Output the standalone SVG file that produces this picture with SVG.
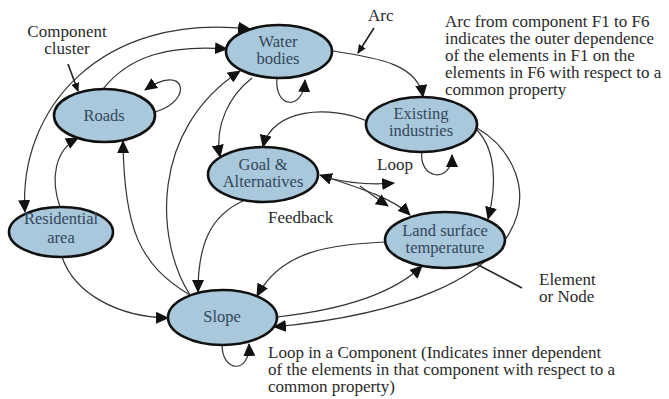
<svg xmlns="http://www.w3.org/2000/svg" width="669" height="399" viewBox="0 0 669 399">
<defs>
<marker id="ah" markerUnits="userSpaceOnUse" markerWidth="13" markerHeight="12" refX="12" refY="6" orient="auto-start-reverse" viewBox="0 0 13 12">
<path d="M0,0 L13,6 L0,12 z" fill="#111"/>
</marker>
<marker id="sm" markerUnits="userSpaceOnUse" markerWidth="9" markerHeight="8" refX="8" refY="4" orient="auto" viewBox="0 0 9 8">
<path d="M0,0 L9,4 L0,8 z" fill="#111"/>
</marker>
<style>
.node ellipse{fill:#a9c8dc;stroke:#111;stroke-width:2.6}
.node text{font-size:16.5px;fill:#33475a;text-anchor:middle}
.c path{fill:none;stroke:#333;stroke-width:1.2;marker-end:url(#ah)}
.c path.both{marker-start:url(#ah)}
.c path.p{stroke:#222;stroke-width:1.6;marker-end:url(#sm)}
.t{font-size:17px;fill:#2a2a2a}
</style>
</defs>
<rect width="669" height="399" fill="#fff"/>

<g id="connectors" class="c">
<path class="both" d="M25 212 C18 110 100 12 250 29"/>
<path d="M103 89 C130 55 170 45 227 49"/>
<path d="M190 295 C155 240 150 130 240 71"/>
<path d="M60 207 C50 178 55 150 78 138"/>
<path d="M190 295 C140 265 124 230 123 141"/>
<path d="M62 257 C75 295 120 317 168 318"/>
<path d="M245 200 C210 215 198 245 198 292"/>
<path d="M252 78 C230 95 214 125 220 157"/>
<path d="M367 121 C330 105 272 108 263 147"/>
<path d="M277 78 C274 108 303 112 305 80"/>
<path d="M155 112 C195 100 185 62 145 90"/>
<path d="M333 51 C380 58 418 65 423 97"/>
<path d="M422 151 C418 180 452 184 452 155"/>
<path d="M477 130 C496 150 497 185 488 219"/>
<path d="M477 128 C548 170 560 300 274 327"/>
<path d="M277 317 C340 310 392 295 422 266"/>
<path d="M385 242 C330 245 282 250 257 296"/>
<path d="M222 345 C222 372 250 375 249 344"/>
<path class="both" d="M320 175 C350 185 392 197 410 215"/>
<path d="M328 178 Q362 186 394 183"/>
<path d="M360 186 Q372 195 388 206"/>
<path class="p" d="M68 64 L78 91"/>
<path class="p" d="M374 28 L358 53"/>
<path class="p" d="M522 288 L465 258"/>
</g>

<g font-family="Liberation Serif, Times New Roman, DejaVu Serif, serif">
<g id="water-bodies" class="node">
<ellipse cx="279" cy="51.5" rx="53" ry="26.5"/>
<text x="278" y="47">Water</text>
<text x="278" y="64">bodies</text>
</g>
<g id="roads" class="node">
<ellipse cx="104.5" cy="115.5" rx="50.5" ry="26.5"/>
<text x="104" y="121">Roads</text>
</g>
<g id="goal-alternatives" class="node">
<ellipse cx="263" cy="174.5" rx="55" ry="27.5"/>
<text x="263" y="170">Goal &amp;</text>
<text x="263" y="187">Alternatives</text>
</g>
<g id="existing-industries" class="node">
<ellipse cx="421.5" cy="124.5" rx="55.5" ry="27.5"/>
<text x="421" y="119">Existing</text>
<text x="421" y="136">industries</text>
</g>
<g id="residential-area" class="node">
<ellipse cx="61" cy="232" rx="52" ry="25"/>
<text x="61" y="224">Residential</text>
<text x="61" y="243">area</text>
</g>
<g id="land-surface-temperature" class="node">
<ellipse cx="445" cy="240" rx="60" ry="28"/>
<text x="445" y="236">Land surface</text>
<text x="445" y="253">temperature</text>
</g>
<g id="slope" class="node">
<ellipse cx="222.5" cy="317.5" rx="54.5" ry="27.5"/>
<text x="222" y="322">Slope</text>
</g>

<g id="labels">
<text class="t" x="67" y="37" text-anchor="middle">Component</text>
<text class="t" x="67" y="54" text-anchor="middle">cluster</text>
<text class="t" x="368" y="21">Arc</text>
<text class="t" x="445" y="27">Arc from component F1 to F6</text>
<text class="t" x="445" y="44">indicates the outer dependence</text>
<text class="t" x="445" y="61">of the elements in F1 on the</text>
<text class="t" x="445" y="78">elements in F6 with respect to a</text>
<text class="t" x="445" y="95">common property</text>
<text class="t" x="377" y="170">Loop</text>
<text class="t" x="268" y="223">Feedback</text>
<text class="t" x="539" y="285">Element</text>
<text class="t" x="539" y="302">or Node</text>
<text class="t" x="268" y="358">Loop in a Component (Indicates inner dependent</text>
<text class="t" x="268" y="375">of the elements in that component with respect to a</text>
<text class="t" x="268" y="392">common property)</text>
</g>
</g>
</svg>
